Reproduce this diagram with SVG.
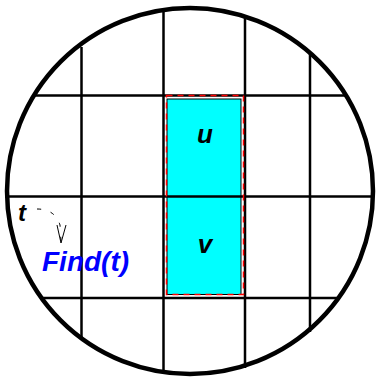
<svg xmlns="http://www.w3.org/2000/svg" width="377" height="377" viewBox="0 0 377 377">
<style>
.grid{stroke:#000;stroke-width:2.5;fill:none}
.lbl{font-family:"Liberation Sans",Arial,sans-serif;font-weight:bold;font-style:italic}
</style>
<rect width="377" height="377" fill="#fff"/>
<g id="grid">
<line class="grid" x1="81.5" y1="47" x2="81.5" y2="337"/>
<line class="grid" x1="163.5" y1="12" x2="163.5" y2="372"/>
<line class="grid" x1="245" y1="18" x2="245" y2="368"/>
<line class="grid" x1="310" y1="54" x2="310" y2="332"/>
<line class="grid" x1="35" y1="95.5" x2="345" y2="95.5"/>
<line class="grid" x1="5" y1="196.5" x2="374" y2="196.5"/>
<line class="grid" x1="42" y1="298" x2="339" y2="298"/>
</g>
<g id="node-uv">
<rect x="167" y="99" width="74" height="195.5" fill="#00ffff" stroke="#000" stroke-width="1"/>
<line x1="167" y1="196.5" x2="241" y2="196.5" stroke="#000" stroke-width="2.5"/>
<rect x="166.5" y="95.5" width="77" height="199" fill="none" stroke="#ff0000" stroke-width="1.5" stroke-dasharray="6,5"/>
<text class="lbl" x="205" y="143" font-size="26" text-anchor="middle" fill="#000">u</text>
<text class="lbl" x="205" y="253" font-size="26" text-anchor="middle" fill="#000">v</text>
</g>
<circle cx="190" cy="191" r="183" fill="none" stroke="#000" stroke-width="4.5"/>
<g id="node-t">
<text class="lbl" x="18" y="221" font-size="24" fill="#000">t</text>
</g>
<g id="node-find">
<text class="lbl" x="42" y="271" font-size="28" fill="#0000ff">Find(t)</text>
</g>
<g id="connectors" fill="none" stroke="#000" stroke-width="1">
<path d="M37,209 Q55,209 60,225 L61,241" stroke-dasharray="4,10"/>
<path d="M57,225 L61,243 L66,225"/>
</g>
</svg>
